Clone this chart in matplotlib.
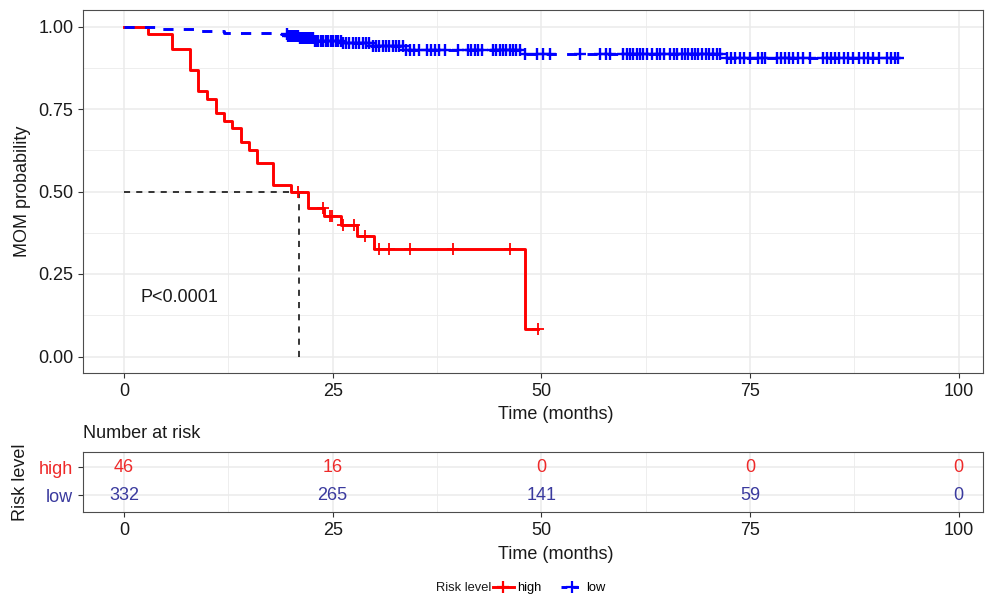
import numpy as np
import matplotlib
matplotlib.use("Agg")
import matplotlib.pyplot as plt
from matplotlib.lines import Line2D

plt.rcParams['font.family'] = ['Liberation Sans', 'DejaVu Sans']

# ---------------- data ----------------
high_times = [0, 2.9, 5.8, 7.9, 8.9, 10.0, 11.0, 12.0, 13.0, 14.0, 15.0, 15.9, 17.9,
              20.0, 22.0, 24.0, 26.0, 27.9, 29.9, 48.0]
high_surv = [1.0, 0.978, 0.933, 0.868, 0.804, 0.781, 0.738, 0.715, 0.693, 0.650, 0.627,
             0.585, 0.521, 0.498, 0.450, 0.425, 0.398, 0.365, 0.327, 0.082]
high_end = 49.6
high_censor = [20.9, 23.9, 24.7, 24.9, 26.2, 27.5, 28.9, 30.5, 31.7, 34.3, 39.4, 46.3, 49.6]

low_times = [0, 3.8, 9.2, 12.0, 18.8, 19.6, 21.0, 22.8, 26.2, 29.5, 33.5, 47.8, 72.0]
low_surv = [1.0, 0.991, 0.985, 0.980, 0.976, 0.970, 0.964, 0.957, 0.950, 0.942, 0.929,
            0.917, 0.904]
low_end = 92.7
low_censor = [19.5, 19.7, 19.9, 20.1, 20.3, 20.5, 20.7, 20.9, 21.1, 21.3, 21.5, 21.7, 21.9,
              22.1, 22.3, 22.5, 22.7, 22.9, 23.1, 23.3, 23.6, 23.9, 24.2, 24.5, 24.8, 25.1,
              25.4, 25.7, 26.0, 26.3, 26.6, 27.0, 27.4, 27.8, 28.2, 28.6, 29.0, 29.4, 29.8,
              30.2, 30.6, 31.0, 31.4, 31.8, 32.2, 32.6, 33.0, 33.4, 33.8, 34.3, 34.8, 35.3,
              36.3, 36.8, 37.3, 37.8, 38.4, 40.0, 41.2, 41.6, 42.0, 42.4, 42.9, 44.2, 44.6,
              45.0, 45.4, 45.8, 46.2, 46.6, 47.0, 47.5, 48.0, 49.5, 50.2, 51.0, 54.6, 57.0,
              57.8, 58.2, 59.8, 60.2, 60.6, 61.0, 61.4, 61.8, 62.2, 62.6, 63.2, 63.8, 64.2,
              64.7, 65.4, 65.9, 66.3, 66.8, 67.2, 67.6, 68.0, 68.4, 68.8, 69.3, 69.7, 70.1,
              70.6, 71.0, 71.4, 72.2, 72.7, 73.2, 73.8, 74.3, 75.0, 75.9, 76.4, 76.8, 78.2,
              78.7, 79.2, 79.7, 80.1, 80.7, 81.3, 82.2, 83.7, 84.2, 84.7, 85.2, 85.7, 86.2,
              86.7, 87.3, 88.1, 88.6, 89.1, 89.7, 90.5, 91.4, 91.9, 92.3, 92.7]

median_time = 21.0
pval_text = "P<0.0001"

risk_times = [0, 25, 50, 75, 100]
risk_high = [46, 16, 0, 0, 0]
risk_low = [332, 265, 141, 59, 0]
groups = ["high", "low"]

# ---------------- styling ----------------
RED = "#FF0000"
BLUE = "#0000FF"
TRED = "#EE2A2A"
TBLUE = "#3A3A9E"
GRID = "#EBEBEB"
BORDER = "#4D4D4D"
FS = 13

fig = plt.figure(figsize=(9.88, 5.98), dpi=100)
L, R = 83 / 988, 983 / 988
ax = fig.add_axes([L, 1 - 373 / 598, R - L, (373 - 10) / 598])
ax2 = fig.add_axes([L, 1 - 512 / 598, R - L, (512 - 452) / 598])

XLIM = (-4.9, 102.9)


def style(a):
    a.set_facecolor("white")
    for s in a.spines.values():
        s.set_color(BORDER)
        s.set_linewidth(0.8)
    a.tick_params(colors="#333333", labelcolor="#1a1a1a", labelsize=FS, length=3.5, width=0.8)
    a.set_axisbelow(True)


def surv_at(times, surv, t):
    idx = np.searchsorted(times, t, side="right") - 1
    return np.asarray(surv)[idx]


# ---- main plot ----
style(ax)
ax.set_xlim(*XLIM)
ax.set_ylim(-0.05, 1.05)
ax.set_xticks([0, 25, 50, 75, 100])
ax.set_yticks([0, 0.25, 0.5, 0.75, 1.0])
ax.set_yticklabels(["0.00", "0.25", "0.50", "0.75", "1.00"])
ax.set_xticks([12.5, 37.5, 62.5, 87.5], minor=True)
ax.set_yticks([0.125, 0.375, 0.625, 0.875], minor=True)
ax.tick_params(which="minor", length=0)
ax.grid(True, which="major", color=GRID, lw=1.1)
ax.grid(True, which="minor", color=GRID, lw=0.6)

# median lines
ax.plot([0, median_time], [0.5, 0.5], color="black", lw=1.1, ls=(0, (4, 4)), zorder=2)
ax.plot([median_time, median_time], [0, 0.5], color="black", lw=1.1, ls=(0, (4, 4)), zorder=2)

# high curve
ht = list(high_times) + [high_end]
hs = list(high_surv) + [high_surv[-1]]
ax.step(ht, hs, where="post", color=RED, lw=2.1, zorder=3)
hc = np.array(high_censor)
ax.plot(hc, surv_at(high_times, high_surv, hc), ls="none", marker="+", ms=8, mew=1.3,
        color=RED, zorder=3)

# low curve
lt = list(low_times) + [low_end]
ls_ = list(low_surv) + [low_surv[-1]]
ax.step(lt, ls_, where="post", color=BLUE, lw=2.1, ls=(0, (3.5, 3.5)), zorder=4)
lc = np.array(low_censor)
ax.plot(lc, surv_at(low_times, low_surv, lc), ls="none", marker="+", ms=8, mew=1.7,
        color=BLUE, zorder=4)

ax.text(2.0, 0.18, pval_text, fontsize=FS, ha="left", va="center", color="#1a1a1a")
ax.set_xlabel("Time (months)", fontsize=FS, color="#1a1a1a", labelpad=1)
ax.xaxis.set_label_coords(0.5256, -0.09)
ax.set_ylabel("MOM probability", fontsize=FS, color="#1a1a1a", labelpad=5)

# ---- risk table ----
style(ax2)
ax2.set_xlim(*XLIM)
ax2.set_ylim(-0.607, 1.536)
ax2.set_xticks(risk_times)
ax2.set_xticks([12.5, 37.5, 62.5, 87.5], minor=True)
ax2.tick_params(which="minor", length=0)
ax2.set_yticks([1, 0])
ax2.set_yticklabels(groups)
for lab, c in zip(ax2.get_yticklabels(), [TRED, TBLUE]):
    lab.set_color(c)
ax2.grid(True, which="major", color=GRID, lw=1.1)
ax2.grid(True, which="minor", axis="x", color=GRID, lw=0.6)
for t, h, l in zip(risk_times, risk_high, risk_low):
    ax2.text(t, 1, str(h), color=TRED, fontsize=FS, ha="center", va="center")
    ax2.text(t, 0, str(l), color=TBLUE, fontsize=FS, ha="center", va="center")
ax2.set_xlabel("Time (months)", fontsize=FS, color="#1a1a1a", labelpad=1)
ax2.xaxis.set_label_coords(0.5256, -0.56)
ax2.set_ylabel("Risk level", fontsize=FS, color="#1a1a1a", labelpad=7)
ax2.set_title("Number at risk", fontsize=FS, loc="left", color="#1a1a1a", pad=10)

# ---- legend ----
handles = [Line2D([], [], color=RED, lw=2.1, marker="+", ms=8, mew=1.6),
           Line2D([], [], color=BLUE, lw=2.1, ls=(0, (2, 2)), marker="+", ms=8, mew=1.6)]
fig.text(491 / 988, 1 - 588 / 598, "Risk level", fontsize=9.3, ha="right", va="center",
         color="#1a1a1a")
fig.legend(handles, groups, loc="center left", bbox_to_anchor=(493 / 988, 1 - 588 / 598),
           ncol=2, frameon=False, fontsize=9.3, handlelength=1.6, handletextpad=0.3,
           columnspacing=1.5, borderpad=0, borderaxespad=0)

fig.savefig("out.png", dpi=100)
